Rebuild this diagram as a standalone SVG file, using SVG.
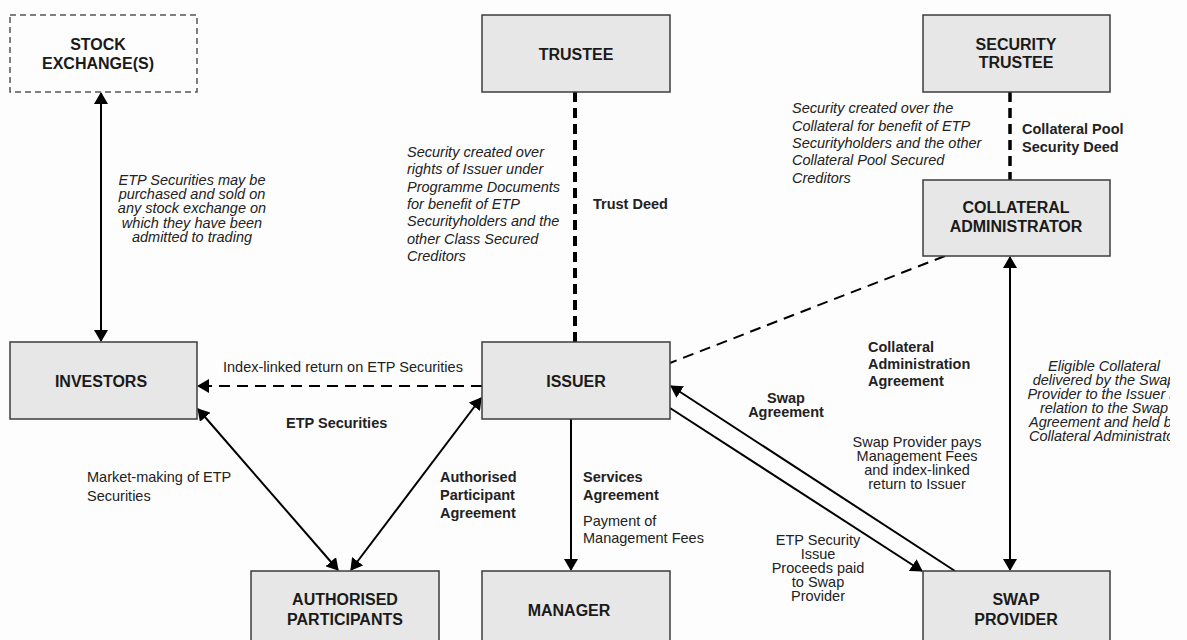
<svg xmlns="http://www.w3.org/2000/svg" width="1187" height="640" viewBox="0 0 1187 640">
<style>
.box{fill:#e7e7e7;stroke:#3c3c3c;stroke-width:1.5}
.dbox{fill:#fdfdfd;stroke:#555;stroke-width:1.5;stroke-dasharray:6 4}
.nl{font-family:"Liberation Sans",Arial,sans-serif;font-weight:bold;font-size:16px;fill:#1a1a1a;text-anchor:middle}
.it{font-family:"Liberation Sans",Arial,sans-serif;font-style:italic;font-size:14.5px;fill:#222}
.rg{font-family:"Liberation Sans",Arial,sans-serif;font-size:14.5px;fill:#222}
.bd{font-family:"Liberation Sans",Arial,sans-serif;font-weight:bold;font-size:14.5px;fill:#222}
.mid{text-anchor:middle}
.sl{fill:none;stroke:#000;stroke-width:2}
.dl{fill:none;stroke:#000;stroke-width:2;stroke-dasharray:11 7}
</style>
<defs>
<marker id="ah" viewBox="0 0 12 14" markerWidth="12" markerHeight="14" refX="11" refY="7" orient="auto-start-reverse" markerUnits="userSpaceOnUse">
<path d="M0,0 L12,7 L0,14 z" fill="#000"/>
</marker>
<clipPath id="rc"><rect x="0" y="0" width="1170" height="640"/></clipPath>
</defs>
<rect x="0" y="0" width="1187" height="640" fill="#fdfdfd"/>

<g id="connectors">
<line class="sl" x1="101" y1="93" x2="101" y2="341" marker-start="url(#ah)" marker-end="url(#ah)" stroke-width="2.5"/>
<line x1="575" y1="92" x2="575" y2="342" stroke="#000" stroke-width="4" stroke-dasharray="10 6"/>
<line x1="1010" y1="92" x2="1010" y2="180" stroke="#000" stroke-width="3.5" stroke-dasharray="10 6"/>
<line class="dl" x1="945" y1="256" x2="670" y2="363" stroke-width="2.5"/>
<line class="dl" x1="482" y1="386" x2="198" y2="386"  marker-end="url(#ah)"/>
<line class="sl" x1="198" y1="409" x2="338" y2="570" marker-start="url(#ah)" marker-end="url(#ah)"/>
<line class="sl" x1="481" y1="398" x2="351" y2="570" marker-start="url(#ah)" marker-end="url(#ah)"/>
<line class="sl" x1="571" y1="419" x2="571" y2="570" marker-end="url(#ah)"/>
<line class="sl" x1="955" y1="571" x2="671" y2="386" marker-end="url(#ah)"/>
<line class="sl" x1="670" y1="408" x2="922" y2="571" marker-end="url(#ah)"/>
<line class="sl" x1="1010" y1="257" x2="1010" y2="570" marker-start="url(#ah)" marker-end="url(#ah)"/>
</g>

<g id="stock-exchange">
<rect class="dbox" x="10" y="15" width="187" height="77"/>
<text class="nl" x="98" y="50">STOCK</text>
<text class="nl" x="98" y="69">EXCHANGE(S)</text>
</g>
<g id="trustee">
<rect class="box" x="482" y="15" width="188" height="77"/>
<text class="nl" x="576" y="60">TRUSTEE</text>
</g>
<g id="security-trustee">
<rect class="box" x="923" y="15" width="187" height="77"/>
<text class="nl" x="1016" y="50">SECURITY</text>
<text class="nl" x="1016" y="68">TRUSTEE</text>
</g>
<g id="collateral-administrator">
<rect class="box" x="923" y="180" width="187" height="76"/>
<text class="nl" x="1016" y="213">COLLATERAL</text>
<text class="nl" x="1016" y="232">ADMINISTRATOR</text>
</g>
<g id="investors">
<rect class="box" x="10" y="342" width="187" height="77"/>
<text class="nl" x="101" y="387">INVESTORS</text>
</g>
<g id="issuer">
<rect class="box" x="482" y="342" width="188" height="77"/>
<text class="nl" x="576" y="387">ISSUER</text>
</g>
<g id="authorised-participants">
<rect class="box" x="251" y="571" width="188" height="80"/>
<text class="nl" x="345" y="605">AUTHORISED</text>
<text class="nl" x="345" y="625">PARTICIPANTS</text>
</g>
<g id="manager">
<rect class="box" x="482" y="571" width="188" height="80"/>
<text class="nl" x="569" y="616">MANAGER</text>
</g>
<g id="swap-provider">
<rect class="box" x="923" y="571" width="187" height="80"/>
<text class="nl" x="1016" y="605">SWAP</text>
<text class="nl" x="1016" y="625">PROVIDER</text>
</g>

<g id="labels">
<text class="it mid" x="192"><tspan x="192" y="185">ETP Securities may be</tspan><tspan x="192" y="199">purchased and sold on</tspan><tspan x="192" y="213">any stock exchange on</tspan><tspan x="192" y="228">which they have been</tspan><tspan x="192" y="242">admitted to trading</tspan></text>
<text class="it" x="407"><tspan x="407" y="157">Security created over</tspan><tspan x="407" y="174">rights of Issuer under</tspan><tspan x="407" y="192">Programme Documents</tspan><tspan x="407" y="209">for benefit of ETP</tspan><tspan x="407" y="226">Securityholders and the</tspan><tspan x="407" y="244">other Class Secured</tspan><tspan x="407" y="261">Creditors</tspan></text>
<text class="bd" x="593" y="209">Trust Deed</text>
<text class="it" x="792"><tspan x="792" y="113">Security created over the</tspan><tspan x="792" y="131">Collateral for benefit of ETP</tspan><tspan x="792" y="148">Securityholders and the other</tspan><tspan x="792" y="165">Collateral Pool Secured</tspan><tspan x="792" y="183">Creditors</tspan></text>
<text class="bd" x="1022"><tspan x="1022" y="134">Collateral Pool</tspan><tspan x="1022" y="152">Security Deed</tspan></text>
<text class="rg" x="223" y="372">Index-linked return on ETP Securities</text>
<text class="bd" x="286" y="428">ETP Securities</text>
<text class="rg" x="87"><tspan x="87" y="482">Market-making of ETP</tspan><tspan x="87" y="501">Securities</tspan></text>
<text class="bd" x="440"><tspan x="440" y="482">Authorised</tspan><tspan x="440" y="500">Participant</tspan><tspan x="440" y="518">Agreement</tspan></text>
<text class="bd" x="583"><tspan x="583" y="482">Services</tspan><tspan x="583" y="500">Agreement</tspan></text>
<text class="rg" x="583"><tspan x="583" y="526">Payment of</tspan><tspan x="583" y="543">Management Fees</tspan></text>
<text class="bd mid" x="786"><tspan x="786" y="403">Swap</tspan><tspan x="786" y="417">Agreement</tspan></text>
<text class="bd" x="868"><tspan x="868" y="352">Collateral</tspan><tspan x="868" y="369">Administration</tspan><tspan x="868" y="386">Agreement</tspan></text>
<text class="rg mid" x="917"><tspan x="917" y="447">Swap Provider pays</tspan><tspan x="917" y="461">Management Fees</tspan><tspan x="917" y="475">and index-linked</tspan><tspan x="917" y="489">return to Issuer</tspan></text>
<text class="rg mid" x="818"><tspan x="818" y="545">ETP Security</tspan><tspan x="818" y="559">Issue</tspan><tspan x="818" y="573">Proceeds paid</tspan><tspan x="818" y="587">to Swap</tspan><tspan x="818" y="601">Provider</tspan></text>
<g clip-path="url(#rc)">
<text class="it mid" x="1104"><tspan x="1104" y="371">Eligible Collateral</tspan><tspan x="1104" y="385">delivered by the Swap</tspan><tspan x="1104" y="399">Provider to the Issuer in</tspan><tspan x="1104" y="413">relation to the Swap</tspan><tspan x="1104" y="427">Agreement and held by</tspan><tspan x="1104" y="441">Collateral Administrator</tspan></text>
</g>
</g>
</svg>
